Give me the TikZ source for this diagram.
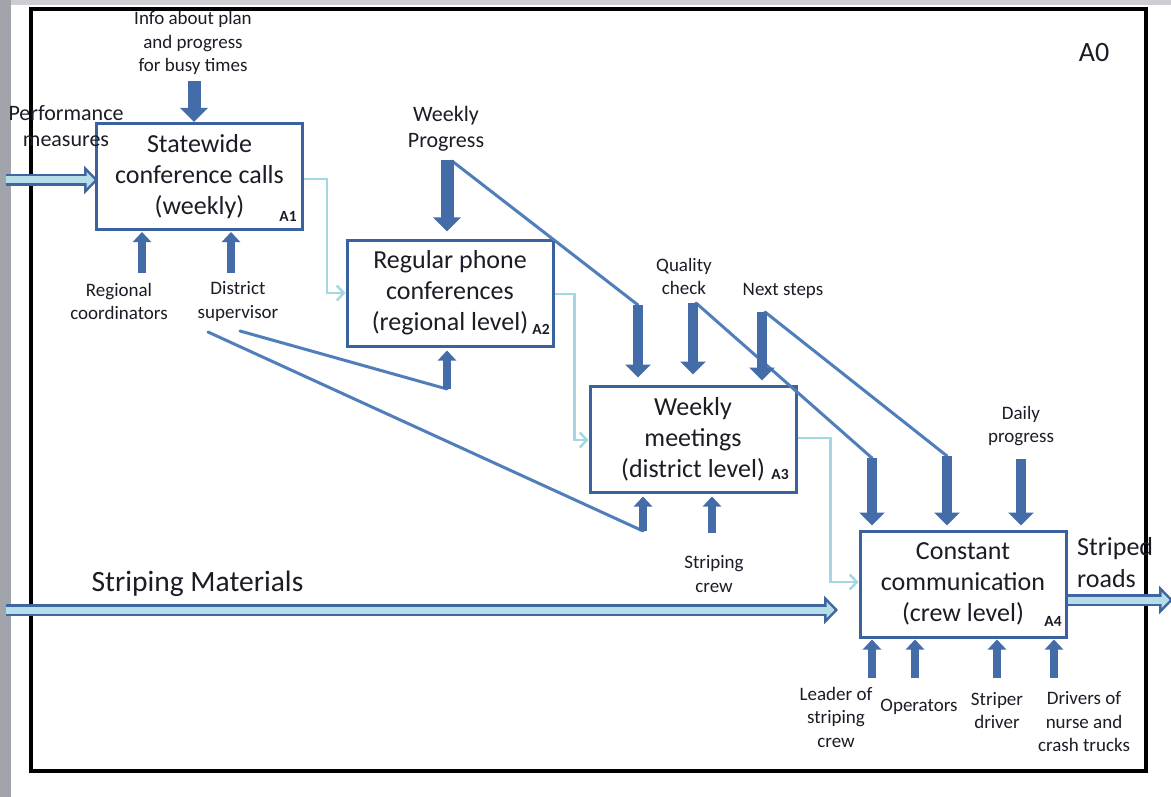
\documentclass[tikz,border=0pt]{standalone}
\usepackage{fontspec}
\setmainfont{Carlito}
\usetikzlibrary{arrows.meta}
\definecolor{boxblue}{RGB}{58,98,158}
\definecolor{arrblue}{RGB}{68,108,168}
\definecolor{lineblue}{RGB}{79,126,186}
\definecolor{flowblue}{RGB}{165,214,228}
\definecolor{hollowfill}{RGB}{183,221,232}
\definecolor{hollowline}{RGB}{62,102,160}
\definecolor{txt}{RGB}{28,28,38}
\definecolor{bandgray}{RGB}{162,164,172}
\definecolor{topgray}{RGB}{205,206,210}
\tikzset{
  proc/.style={draw=boxblue, line width=3pt, fill=white, minimum width=206pt, minimum height=106pt,
    inner sep=0pt, align=center, text=txt, font=\fontsize{26}{31}\selectfont},
  lbl/.style={align=center, inner sep=0pt, text=txt, font=\fontsize{19}{23.5}\selectfont},
  biglbl/.style={align=center, inner sep=0pt, text=txt, font=\fontsize{22}{26}\selectfont},
  alabel/.style={inner sep=0pt, text=txt, font=\fontsize{15.5}{17}\selectfont\bfseries},
  bigctrl/.style={draw=arrblue, line width=13pt, -{Triangle[width=27pt,length=14pt]}},
  ctrl/.style={draw=arrblue, line width=10pt, -{Triangle[width=25pt,length=13pt]}},
  mech/.style={draw=arrblue, line width=8pt, -{Triangle[width=18pt,length=10pt]}},
  thinlink/.style={draw=lineblue, line width=3pt, line cap=round},
  flow/.style={draw=flowblue, line width=2.5pt, -{Straight Barb[length=7pt,width=15pt]}},
  hollowA/.style={draw=hollowline, line width=12pt, -{Triangle[width=28pt,length=14pt]}},
  hollowB/.style={draw=hollowfill, line width=7pt, -{Triangle[width=16pt,length=8pt]}, shorten >=3.5pt}
}
\begin{document}
\begin{tikzpicture}[x=1pt,y=-1pt]
\useasboundingbox (0,0) rectangle (1171,797);
\fill[white] (0,0) rectangle (1171,797);
\fill[bandgray] (0,0) rectangle (11,797);
\fill[topgray] (11,0) rectangle (1171,5);
\draw[black, line width=3.5pt] (31,9) rectangle (1146,771);
\node[inner sep=0pt, text=txt, font=\fontsize{28}{30}\selectfont] (a0) at (1094,53) {A0};

% process boxes
\node[proc] (a1) at (199.5,176.5) {Statewide\\conference calls\\(weekly)};
\node[proc] (a2) at (450,293) {Regular phone\\conferences\\(regional level)};
\node[proc] (a3) at (693,439) {Weekly\\meetings\\(district level)};
\node[proc] (a4) at (963,584) {Constant\\communication\\(crew level)};
\node[alabel] (l1) at (288,216) {A1};
\node[alabel] (l2) at (541,329) {A2};
\node[alabel] (l3) at (780,474) {A3};
\node[alabel] (l4) at (1053,621) {A4};

% text labels
\node[lbl] (tinfo) at (193,43) {Info about plan\\and progress\\for busy times};
\node[biglbl] (tperf) at (66,126.5) {Performance\\measures};
\node[biglbl] (twp) at (446,129) {Weekly\\Progress};
\node[lbl] (tqc) at (684,276.5) {Quality\\check};
\node[lbl] (tns) at (783,291) {Next steps};
\node[lbl] (tdp) at (1021,426) {Daily\\progress};
\node[lbl] (treg) at (119,301.5) {Regional\\coordinators};
\node[lbl] (tdis) at (238,301.5) {District\\supervisor};
\node[lbl] (tsc) at (714,574) {Striping\\crew};
\node[inner sep=0pt, text=txt, font=\fontsize{29.5}{33}\selectfont] (tsm) at (197.5,584) {Striping Materials};
\node[inner sep=0pt, text=txt, align=left, anchor=west, font=\fontsize{26}{32}\selectfont] (tsr) at (1077,563) {Striped\\roads};
\node[lbl] (tlead) at (836,717) {Leader of\\striping\\crew};
\node[lbl] (top) at (919,707) {Operators};
\node[lbl] (tstr) at (997,710.5) {Striper\\driver};
\node[lbl] (tdrv) at (1084,722) {Drivers of\\nurse and\\crash trucks};

% coordinates of free ends
\coordinate (infoT) at (194,81);
\coordinate (wpT) at (447,160);
\coordinate (wpD) at (452,161);
\coordinate (a3c1T) at (638,305);
\coordinate (qcT) at (693,303);
\coordinate (qcD) at (696,303);
\coordinate (nsT) at (762,312);
\coordinate (nsD) at (765,312);
\coordinate (a4c1T) at (872,458);
\coordinate (a4c2T) at (947,456);
\coordinate (dpT) at (1021,459);
\coordinate (regB) at (142,273);
\coordinate (disB) at (231,273);
\coordinate (a2mB) at (447,389);
\coordinate (a3m1B) at (643,531);
\coordinate (a3m2B) at (712,533);
\coordinate (a4m1B) at (872,678);
\coordinate (a4m2B) at (915,678);
\coordinate (a4m3B) at (997,678);
\coordinate (a4m4B) at (1054,678);
\coordinate (ds1) at (208,332);
\coordinate (ds2) at (240,331);
\coordinate (pmL) at (6,180);
\coordinate (smL) at (6,610);
\coordinate (smR) at (838,610);
\coordinate (srR) at (1173,600);

% thin diagonal links
\draw[thinlink] (wpD) -- (a3c1T);
\draw[thinlink] (qcD) -- (a4c1T);
\draw[thinlink] (nsD) -- (a4c2T);
\draw[thinlink] (ds2) -- (a2mB);
\draw[thinlink] (ds1) -- (a3m1B);

% flow connectors between boxes
\draw[flow] ([yshift=-2.5pt]a1.east) -- ++(23,0) |- (a2.west);
\draw[flow] ([yshift=-1pt]a2.east) -- ++(20,0) |- ([yshift=-1pt]a3.west);
\draw[flow] ([yshift=1pt]a3.east) -- ++(33,0) |- ([yshift=2pt]a4.west);

% controls
\draw[bigctrl] (infoT) -- (infoT |- a1.north);
\draw[bigctrl] (wpT) -- ([yshift=7pt]wpT |- a2.north);
\draw[ctrl] (a3c1T) -- ([yshift=7pt]a3c1T |- a3.north);
\draw[ctrl] (qcT) -- ([yshift=10pt]qcT |- a3.north);
\draw[ctrl] (nsT) -- ([yshift=4pt]nsT |- a3.north);
\draw[ctrl] (a4c1T) -- ([yshift=4pt]a4c1T |- a4.north);
\draw[ctrl] (a4c2T) -- ([yshift=4pt]a4c2T |- a4.north);
\draw[ctrl] (dpT) -- ([yshift=4pt]dpT |- a4.north);

% mechanisms
\draw[mech] (regB) -- ([yshift=-1pt]regB |- a1.south);
\draw[mech] (disB) -- ([yshift=-1pt]disB |- a1.south);
\draw[mech] (a2mB) -- ([yshift=-3pt]a2mB |- a2.south);
\draw[mech] (a3m1B) -- ([yshift=-3pt]a3m1B |- a3.south);
\draw[mech] (a3m2B) -- ([yshift=-3pt]a3m2B |- a3.south);
\draw[mech] (a4m1B) -- ([yshift=-1pt]a4m1B |- a4.south);
\draw[mech] (a4m2B) -- ([yshift=-1pt]a4m2B |- a4.south);
\draw[mech] (a4m3B) -- ([yshift=-1pt]a4m3B |- a4.south);
\draw[mech] (a4m4B) -- ([yshift=-1pt]a4m4B |- a4.south);

% hollow input/output arrows
\draw[hollowA] (pmL) -- ([xshift=3pt]a1.west |- pmL);
\draw[hollowB] (pmL) -- ([xshift=3pt]a1.west |- pmL);
\draw[hollowA] (smL) -- (smR);
\draw[hollowB] (smL) -- (smR);
\draw[hollowA] (a4.east |- srR) -- (srR);
\draw[hollowB] (a4.east |- srR) -- (srR);
\end{tikzpicture}
\end{document}
